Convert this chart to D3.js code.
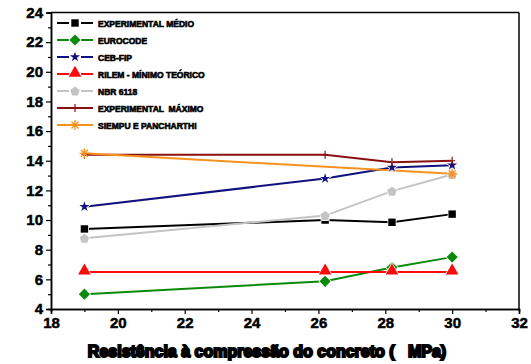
<!DOCTYPE html>
<html>
<head>
<meta charset="utf-8">
<script src="https://cdn.jsdelivr.net/npm/d3@7"></script>
<style>
  body { margin: 0; background: #fff; }
  text { font-family: "Liberation Sans", Arial, sans-serif; font-weight: bold; }
</style>
</head>
<body>
<svg width="531" height="364"></svg>
<script>
let svg = d3.select("svg")
let margin = {left: 51, top: 12.5, right: 12, bottom: 55}
let width = 531 - margin.left - margin.right, height = 364 - margin.top - margin.bottom

// data
let xFck = [19, 26.2, 28.2, 30]
let expMedio = [9.4, 10.0, 9.85, 10.4]
let eurocode = [5.0, 5.87, 6.8, 7.5]
let cebFip = [10.9, 12.8, 13.55, 13.7]
let rilem = [6.5, 6.5, 6.5, 6.5]
let nbr6118 = [8.77, 10.3, 11.95, 13.07]
let expMaximo = [14.4, 14.4, 13.9, 14.0]
let siempuX = [19, 30]
let siempu = [14.5, 13.12]

let xTicks = [18, 20, 22, 24, 26, 28, 30, 32]
let yTicks = [4, 6, 8, 10, 12, 14, 16, 18, 20, 22, 24]

let series = [
  {name: "EXPERIMENTAL MÉDIO", xs: xFck, ys: expMedio, color: "#000000", sym: d3.symbolSquare, size: 55, dash: true},
  {name: "EUROCODE", xs: xFck, ys: eurocode, color: "#0a8a0a", sym: d3.symbolDiamond2, size: 80, dash: true},
  {name: "CEB-FIP", xs: xFck, ys: cebFip, color: "#10107f", sym: d3.symbolStar, size: 32, dash: true},
  {name: "RILEM - MÍNIMO TEÓRICO", xs: xFck, ys: rilem, color: "#ff0a0a", sym: d3.symbolTriangle, size: 70, dash: true},
  {name: "NBR 6118", xs: xFck, ys: nbr6118, color: "#c4c4c4", sym: "pentagon", size: 0, dash: true},
  {name: "EXPERIMENTAL  MÁXIMO", xs: xFck, ys: expMaximo, color: "#8b1010", sym: "plus", size: 0, dash: false},
  {name: "SIEMPU E PANCHARTHI", xs: siempuX, ys: siempu, color: "#f7921e", sym: "asterisk", size: 0, dash: false}
]

let g = svg.append("g").attr("transform", `translate(${margin.left},${margin.top})`)

let x = d3.scaleLinear().domain([18, 32]).range([0, width])
let y = d3.scaleLinear().domain([4, 24]).range([height, 0])

// minor ticks
let xMinor = d3.range(19, 32, 2)
let yMinor = d3.range(5, 24, 2)
g.append("g").attr("transform", `translate(0,${height})`)
  .call(d3.axisBottom(x).tickValues(xMinor).tickSize(3).tickFormat(""))
g.append("g")
  .call(d3.axisLeft(y).tickValues(yMinor).tickSize(3).tickFormat(""))

let xAxisG = g.append("g").attr("transform", `translate(0,${height})`)
  .call(d3.axisBottom(x).tickValues(xTicks).tickSize(5).tickPadding(3))
let yAxisG = g.append("g")
  .call(d3.axisLeft(y).tickValues(yTicks).tickSize(5).tickPadding(3))

g.selectAll(".domain").attr("stroke", "#000").attr("stroke-width", 1.5)
g.selectAll(".tick line").attr("stroke", "#000").attr("stroke-width", 1.2)
g.selectAll(".tick text").style("font-size", "15px").attr("fill", "#000")
  .attr("stroke", "#000").attr("stroke-width", 0.5)

// frame top & right
g.append("line").attr("x1", 0).attr("x2", width).attr("y1", 0).attr("y2", 0)
  .attr("stroke", "#000").attr("stroke-width", 1.5)
g.append("line").attr("x1", width).attr("x2", width).attr("y1", 0).attr("y2", height)
  .attr("stroke", "#000").attr("stroke-width", 1.5)

let line = d3.line().x(d => x(d[0])).y(d => y(d[1]))

let pentagon = (cx, cy, r) => {
  let pts = d3.range(5).map(k => {
    let a = -Math.PI / 2 + k * 2 * Math.PI / 5
    return [cx + r * Math.cos(a), cy + r * Math.sin(a)]
  })
  return "M" + pts.join("L") + "Z"
}

let drawMarker = (sel, s, cx, cy) => {
  if (s.sym === "plus") {
    sel.append("path").attr("d", `M${cx - 3},${cy}H${cx + 3}M${cx},${cy - 4}V${cy + 4}`)
      .attr("stroke", s.color).attr("stroke-width", 1.2).attr("fill", "none")
  } else if (s.sym === "asterisk") {
    let p = d3.path(), r = 5
    for (let k = 0; k < 4; k++) {
      let a = k * Math.PI / 4
      p.moveTo(cx - r * Math.cos(a), cy - r * Math.sin(a))
      p.lineTo(cx + r * Math.cos(a), cy + r * Math.sin(a))
    }
    sel.append("path").attr("d", p.toString())
      .attr("stroke", s.color).attr("stroke-width", 1.3).attr("fill", "none")
  } else {
    let m = sel.append("path")
    if (s.sym === "pentagon") m.attr("d", pentagon(cx, cy + 0.5, 5))
    else m.attr("d", d3.symbol().type(s.sym).size(s.size))
      .attr("transform", `translate(${cx},${cy + (s.sym === d3.symbolTriangle ? -1 : 0)})`)
    m.attr("fill", s.color).attr("stroke", "#fff").attr("stroke-width", 1.5).attr("paint-order", "stroke")
  }
}

series.forEach(s => {
  let pts = s.xs.map((v, i) => [v, s.ys[i]])
  g.append("path").datum(pts).attr("d", line)
    .attr("fill", "none").attr("stroke", s.color).attr("stroke-width", 2)
})
series.forEach(s => {
  s.xs.forEach((v, i) => drawMarker(g, s, x(v), y(s.ys[i])))
})

// legend
let leg = svg.append("g").attr("transform", "translate(57,23)")
series.forEach((s, i) => {
  let row = leg.append("g").attr("transform", `translate(0,${i * 17})`)
  if (s.dash) {
    row.append("line").attr("x1", 0).attr("x2", 12).attr("stroke", s.color).attr("stroke-width", 2)
    row.append("line").attr("x1", 24).attr("x2", 36).attr("stroke", s.color).attr("stroke-width", 2)
  } else {
    row.append("line").attr("x1", 0).attr("x2", 36).attr("stroke", s.color).attr("stroke-width", 2)
  }
  drawMarker(row, s, 18, 0)
  row.append("text").attr("x", 41).attr("y", 3.5).style("font-size", "8.5px")
    .attr("fill", "#000").attr("stroke", "#000").attr("stroke-width", 0.6)
    .style("white-space", "pre")
    .text(s.name)
})

// axis title
svg.append("text").attr("x", 267).attr("y", 357).attr("text-anchor", "middle")
  .style("font-size", "16px").attr("fill", "#000").attr("stroke", "#000").attr("stroke-width", 2)
  .style("white-space", "pre")
  .text("Resistência à compressão do concreto (   MPa)")
</script>
</body>
</html>
